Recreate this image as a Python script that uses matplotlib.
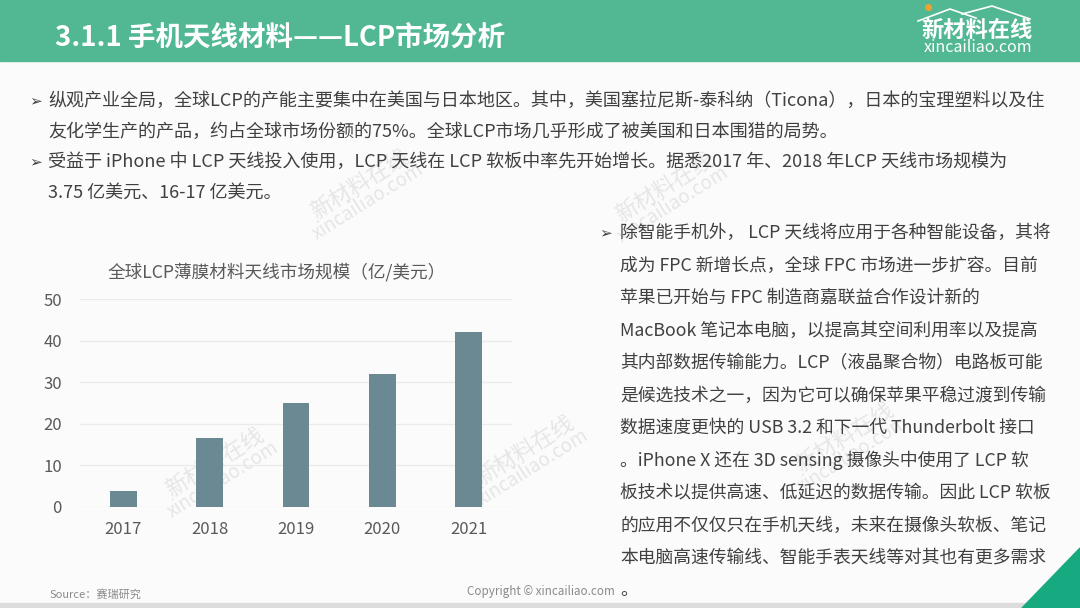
import matplotlib
matplotlib.use("Agg")
import matplotlib.pyplot as plt
from matplotlib.patches import Rectangle, Polygon

plt.rcParams['font.family'] = ['Noto Sans CJK SC', 'DejaVu Sans']

# ---- data ----
years = ["2017", "2018", "2019", "2020", "2021"]
market_size = [3.75, 16.5, 25, 32, 42]
y_ticks = [0, 10, 20, 30, 40, 50]

title = "3.1.1 手机天线材料——LCP市场分析"
chart_title = "全球LCP薄膜材料天线市场规模（亿/美元）"
top_lines = [
    ("➢", "纵观产业全局，全球LCP的产能主要集中在美国与日本地区。其中，美国塞拉尼斯-泰科纳（Ticona），日本的宝理塑料以及住"),
    ("", "友化学生产的产品，约占全球市场份额的75%。全球LCP市场几乎形成了被美国和日本围猎的局势。"),
    ("➢", "受益于 iPhone 中 LCP 天线投入使用，LCP 天线在 LCP 软板中率先开始增长。据悉2017 年、2018 年LCP 天线市场规模为"),
    ("", "3.75 亿美元、16-17 亿美元。"),
]
right_lines = [
    "除智能手机外， LCP 天线将应用于各种智能设备，其将",
    "成为 FPC 新增长点，全球 FPC 市场进一步扩容。目前",
    "苹果已开始与 FPC 制造商嘉联益合作设计新的",
    "MacBook 笔记本电脑，以提高其空间利用率以及提高",
    "其内部数据传输能力。LCP（液晶聚合物）电路板可能",
    "是候选技术之一，因为它可以确保苹果平稳过渡到传输",
    "数据速度更快的 USB 3.2 和下一代 Thunderbolt 接口",
    "。iPhone X 还在 3D sensing 摄像头中使用了 LCP 软",
    "板技术以提供高速、低延迟的数据传输。因此 LCP 软板",
    "的应用不仅仅只在手机天线，未来在摄像头软板、笔记",
    "本电脑高速传输线、智能手表天线等对其也有更多需求",
    "。",
]

W, H = 1080, 608
fig = plt.figure(figsize=(W / 100, H / 100), dpi=100)
fig.patch.set_facecolor("#fbfbfb")

# full-figure overlay in pixel coords
bg = fig.add_axes([0, 0, 1, 1])
bg.set_xlim(0, W)
bg.set_ylim(H, 0)
bg.axis("off")

# header band
bg.add_patch(Rectangle((0, 0), W, 61, color="#52b894", zorder=1))
bg.text(55, 38, title, color="white", fontsize=19.8, fontweight="bold",
        va="center", ha="left", zorder=3)
# logo
bg.plot([918, 950, 976], [21, 9, 18], color="white", lw=1.2, zorder=3)
bg.plot([962, 992, 1030], [14, 6, 19], color="white", lw=1.2, zorder=3)
bg.plot([928], [7], marker="o", color="#f0a030", ms=4, zorder=4)
bg.text(977, 30, "新材料在线", color="white", fontsize=16, fontweight="bold",
        ha="center", va="center", zorder=3)
bg.text(978, 48, "xincailiao.com", color="white", fontsize=11.5,
        ha="center", va="center", zorder=3)

# watermarks
for (wx, wy) in [(360, 192), (665, 195), (215, 470), (525, 458), (845, 445)]:
    bg.text(wx, wy - 8, "新材料在线", color="#e6e6e6", fontsize=16, rotation=32,
            ha="center", va="center", zorder=0.5)
    bg.text(wx + 8, wy + 10, "xincailiao.com", color="#e6e6e6", fontsize=13.5, rotation=32,
            ha="center", va="center", zorder=0.5)

txt_color = "#404040"
# top paragraph
for i, (bul, line) in enumerate(top_lines):
    y = 101 + i * 30.5
    if bul:
        bg.text(29, y, bul, color=txt_color, fontsize=11, family="DejaVu Sans",
                ha="left", va="center", zorder=3)
    bg.text(48, y, line, color=txt_color, fontsize=13, ha="left", va="center", zorder=3)

# right paragraph
bg.text(599, 233, "➢", color=txt_color, fontsize=11, family="DejaVu Sans",
        ha="left", va="center", zorder=3)
for i, line in enumerate(right_lines):
    y = 233 + i * 32.5
    bg.text(620, y, line, color=txt_color, fontsize=12.8, ha="left", va="center", zorder=3)

# footer
bg.text(50, 594, "Source：赛瑞研究", color="#8a8a8a", fontsize=8, style="italic",
        ha="left", va="center", zorder=3)
bg.text(467, 591, "Copyright © xincailiao.com", color="#8a8a8a", fontsize=8.4,
        ha="left", va="center", zorder=3)
bg.add_patch(Rectangle((0, 603), W, 5, color="#dcdcdc", zorder=2))
bg.add_patch(Polygon([[1022, 608], [W, 548], [W, 608]], closed=True,
                     color="#17a97f", zorder=4))

# chart axes: x 80..512 px, y 299..507 px (0..50)
ax_left, ax_right = 80, 512
y_top, y_bot = 299.3, 506.7
ax = fig.add_axes([ax_left / W, 1 - y_bot / H, (ax_right - ax_left) / W, (y_bot - y_top) / H])
ax.set_facecolor("none")
x = list(range(len(years)))
ax.bar(x, market_size, width=0.31, color="#6b8993", zorder=3)
ax.set_xlim(-0.5, len(years) - 0.5)
ax.set_ylim(0, 50)
ax.set_yticks(y_ticks)
ax.set_yticklabels([str(v) for v in y_ticks])
ax.set_xticks(x)
ax.set_xticklabels(years)
ax.tick_params(axis="both", length=0, labelsize=12, colors="#595959")
ax.tick_params(axis="y", pad=13)
ax.tick_params(axis="x", pad=10)
ax.grid(axis="y", color="#ebebeb", lw=0.9, zorder=0)
for s in ax.spines.values():
    s.set_visible(False)
bg.text(277, 272, chart_title, color="#595959", fontsize=12.7,
        ha="center", va="center", zorder=3)

fig.savefig("out.png", dpi=100, facecolor=fig.get_facecolor())
